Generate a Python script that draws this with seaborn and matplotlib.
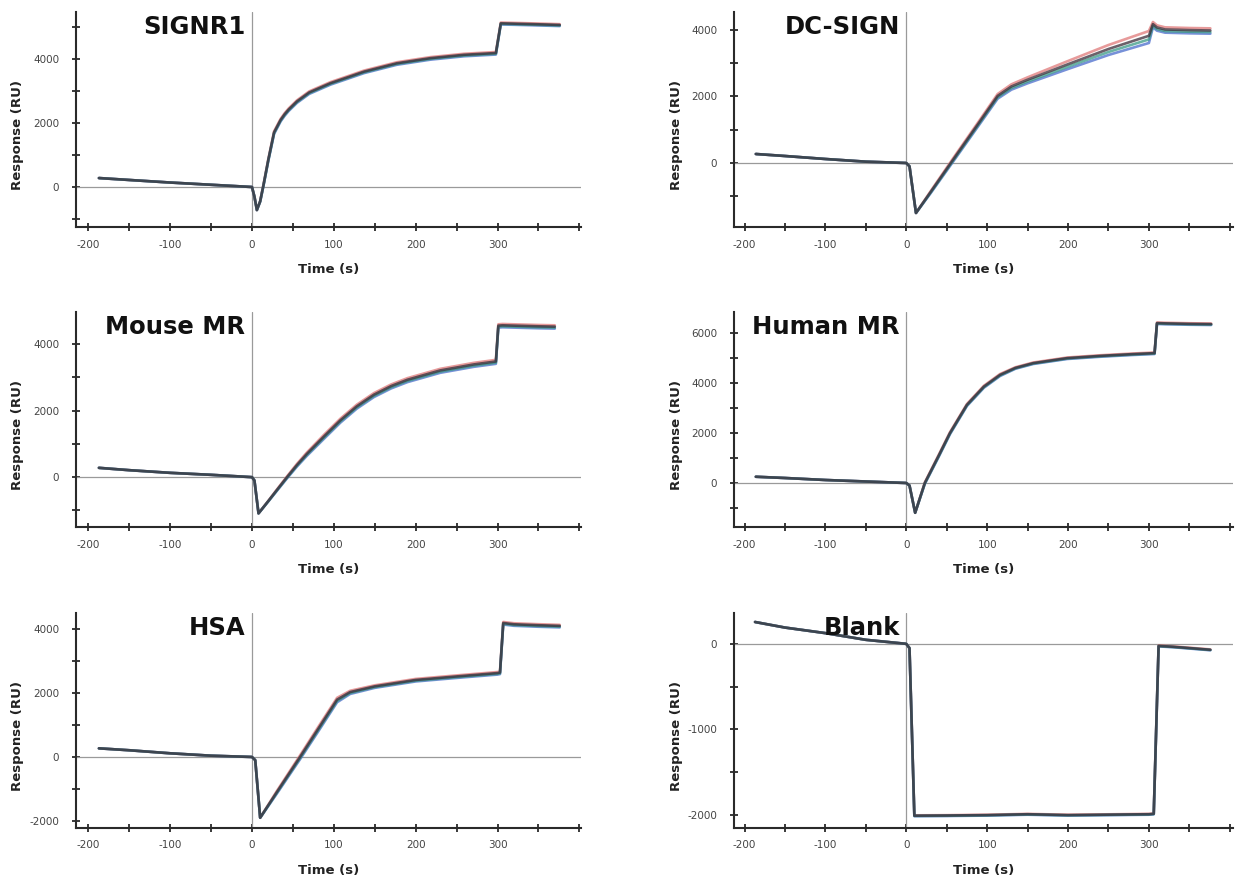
import numpy as np
import pandas as pd
import matplotlib
matplotlib.use("Agg")
import matplotlib.pyplot as plt
import seaborn as sns
from matplotlib.ticker import FixedLocator, NullFormatter

sns.set_style("ticks")
plt.rcParams['font.family'] = ['DejaVu Sans']
plt.rcParams['axes.unicode_minus'] = False

# ---------------- data ----------------
TITLES = ["SIGNR1", "DC-SIGN", "Mouse MR", "Human MR", "HSA", "Blank"]

T_SIGNR1 = [-187, -150, -100, -50, 0, 3, 6, 10, 14, 20, 27, 35, 40, 45, 55, 70, 96, 120, 137, 177, 218, 259, 298, 304, 320, 350, 376]
R_SIGNR1 = [280, 220, 140, 70, 0, -300, -720, -450, 50, 850, 1700, 2090, 2270, 2420, 2670, 2950, 3240, 3450, 3600, 3860, 4020, 4125, 4180, 5110, 5100, 5080, 5060]
S_SIGNR1 = [0, 0, 0, 0, 0, 0, 0, 10, 20, 30, 40, 40, 40, 40, 40, 40, 40, 40, 40, 40, 40, 40, 40, 30, 30, 30, 30]

T_DCSIGN = [-186, -150, -100, -50, 0, 4, 12, 30, 59, 90, 113, 130, 150, 200, 250, 300, 305, 310, 320, 350, 376]
R_DCSIGN = [270, 210, 120, 40, 0, -100, -1500, -880, 128, 1200, 2000, 2280, 2480, 2940, 3390, 3780, 4150, 4050, 3990, 3970, 3960]
S_DCSIGN = [0, 0, 0, 0, 0, 0, 0, 30, 50, 60, 70, 80, 90, 120, 150, 180, 80, 80, 80, 80, 80]

T_MOUSE = [-187, -150, -100, -50, 0, 3, 8, 20, 30, 43, 55, 67, 88, 108, 128, 149, 170, 190, 230, 271, 298, 301, 306, 320, 350, 370]
R_MOUSE = [280, 210, 130, 70, 0, -100, -1090, -720, -405, 0, 360, 690, 1215, 1700, 2120, 2470, 2730, 2920, 3200, 3380, 3470, 4550, 4560, 4550, 4530, 4520]
S_MOUSE = [0, 0, 0, 0, 0, 0, 0, 10, 20, 30, 40, 50, 60, 60, 60, 60, 60, 60, 60, 60, 60, 50, 50, 50, 50, 50]

T_HUMAN = [-186, -150, -100, -50, 0, 4, 11, 23, 40, 54, 75, 96, 116, 135, 157, 199, 240, 280, 307, 310, 320, 350, 377]
R_HUMAN = [250, 200, 120, 60, 0, -100, -1190, 0, 1080, 1990, 3120, 3850, 4320, 4600, 4790, 4990, 5080, 5150, 5190, 6390, 6380, 6360, 6350]
S_HUMAN = [0, 0, 0, 0, 0, 0, 0, 30, 40, 40, 40, 40, 40, 30, 30, 30, 30, 30, 30, 30, 30, 30, 30]

T_HSA = [-187, -150, -100, -50, 0, 4, 10, 30, 59, 80, 104, 120, 150, 200, 250, 300, 303, 307, 320, 350, 376]
R_HSA = [270, 210, 115, 40, 0, -100, -1900, -1120, 0, 830, 1780, 2020, 2200, 2400, 2510, 2615, 2630, 4180, 4140, 4110, 4090]
S_HSA = [0, 0, 0, 0, 0, 0, 0, 40, 60, 70, 70, 50, 40, 40, 40, 40, 40, 40, 40, 40, 40]

T_BLANK = [-187, -150, -100, -50, 0, 4, 10, 50, 100, 150, 200, 250, 300, 306, 312, 330, 350, 376]
R_BLANK = [255, 190, 125, 47, 0, -50, -2007, -2005, -2000, -1990, -2000, -1995, -1990, -1985, -25, -35, -50, -70]
S_BLANK = [0, 0, 0, 0, 0, 0, 5, 5, 5, 5, 5, 5, 5, 5, 5, 5, 5, 5]

TIMES = [T_SIGNR1, T_DCSIGN, T_MOUSE, T_HUMAN, T_HSA, T_BLANK]
RESPS = [R_SIGNR1, R_DCSIGN, R_MOUSE, R_HUMAN, R_HSA, R_BLANK]
SPREADS = [S_SIGNR1, S_DCSIGN, S_MOUSE, S_HUMAN, S_HSA, S_BLANK]

# replicate curves, in drawing order (last drawn on top)
REPLICATES = ["red", "blue", "teal", "dark"]
REP_SHIFT = [1.0, -1.0, -0.4, 0.2]
REP_COLORS = ["#e07a7a", "#4a6ccc", "#3a9a86", "#3a2c38"]

YLIMS = [(-1250, 5470), (-1920, 4530), (-1500, 4970), (-1760, 6840), (-2220, 4500), (-2150, 360)]
YMAJOR = [[0, 2000, 4000], [0, 2000, 4000], [0, 2000, 4000], [0, 2000, 4000, 6000],
          [-2000, 0, 2000, 4000], [-2000, -1000, 0]]
YMINOR = [[-1000, 1000, 3000, 5000], [-1000, 1000, 3000], [-1000, 1000, 3000],
          [-1000, 1000, 3000, 5000], [-1000, 1000, 3000], [-1500, -500]]
XMAJOR = [-200, -100, 0, 100, 200, 300]
XMINOR = [-150, -50, 50, 150, 250, 350, 400]

# ---------------- figure ----------------
fig = plt.figure(figsize=(12.36, 8.85), dpi=100)
W, H = 1236, 885
col_left = [76, 734]
col_right = [581, 1233]
row_top = [12, 312, 613]
row_bot = [227, 527, 828]
xlims = [(-215, 402), (-213, 404)]

for i, title in enumerate(TITLES):
    r, c = divmod(i, 2)
    l = col_left[c] / W
    w = (col_right[c] - col_left[c]) / W
    b = 1 - row_bot[r] / H
    h = (row_bot[r] - row_top[r]) / H
    ax = fig.add_axes([l, b, w, h])

    rows = []
    for rep, shift in zip(REPLICATES, REP_SHIFT):
        for t, v, s in zip(TIMES[i], RESPS[i], SPREADS[i]):
            rows.append({"Time": t, "Response": v + shift * s, "rep": rep})
    df = pd.DataFrame(rows)

    ax.axhline(0, color="#9a9a9a", lw=0.9, zorder=1)
    ax.axvline(0, color="#9a9a9a", lw=0.9, zorder=1)

    sns.lineplot(data=df, x="Time", y="Response", hue="rep", hue_order=REPLICATES,
                 palette=REP_COLORS, estimator=None, sort=False, lw=1.9, alpha=0.75,
                 legend=False, ax=ax, zorder=3)

    ax.set_xlim(*xlims[c])
    ax.set_ylim(*YLIMS[i])
    ax.xaxis.set_major_locator(FixedLocator(XMAJOR))
    ax.xaxis.set_minor_locator(FixedLocator(XMINOR))
    ax.yaxis.set_major_locator(FixedLocator(YMAJOR[i]))
    ax.yaxis.set_minor_locator(FixedLocator(YMINOR[i]))
    ax.xaxis.set_minor_formatter(NullFormatter())
    ax.yaxis.set_minor_formatter(NullFormatter())

    for s in ["top", "right"]:
        ax.spines[s].set_visible(False)
    for s in ["left", "bottom"]:
        ax.spines[s].set_color("#2a2a2a")
        ax.spines[s].set_linewidth(1.5)

    ax.tick_params(which="both", direction="inout", length=6, width=1.3, color="#2a2a2a")
    ax.tick_params(axis="x", which="major", pad=6, labelsize=7.5, labelcolor="#444444")
    ax.tick_params(axis="y", which="major", pad=9, labelsize=7.5, labelcolor="#444444")

    ax.set_xlabel("Time (s)", fontsize=9.5, fontweight="bold", color="#222222")
    ax.set_ylabel("Response (RU)", fontsize=9.5, fontweight="bold", color="#222222")
    ax.xaxis.set_label_coords(0.5, -0.167)
    ax.yaxis.set_label_coords(-0.103, 0.43)

    ax.text(-8, 0.985, title, transform=ax.get_xaxis_transform(), ha="right", va="top",
            fontsize=17.5, fontweight="bold", color="#111111", zorder=5)

fig.savefig("out.png", dpi=100, facecolor="white")
